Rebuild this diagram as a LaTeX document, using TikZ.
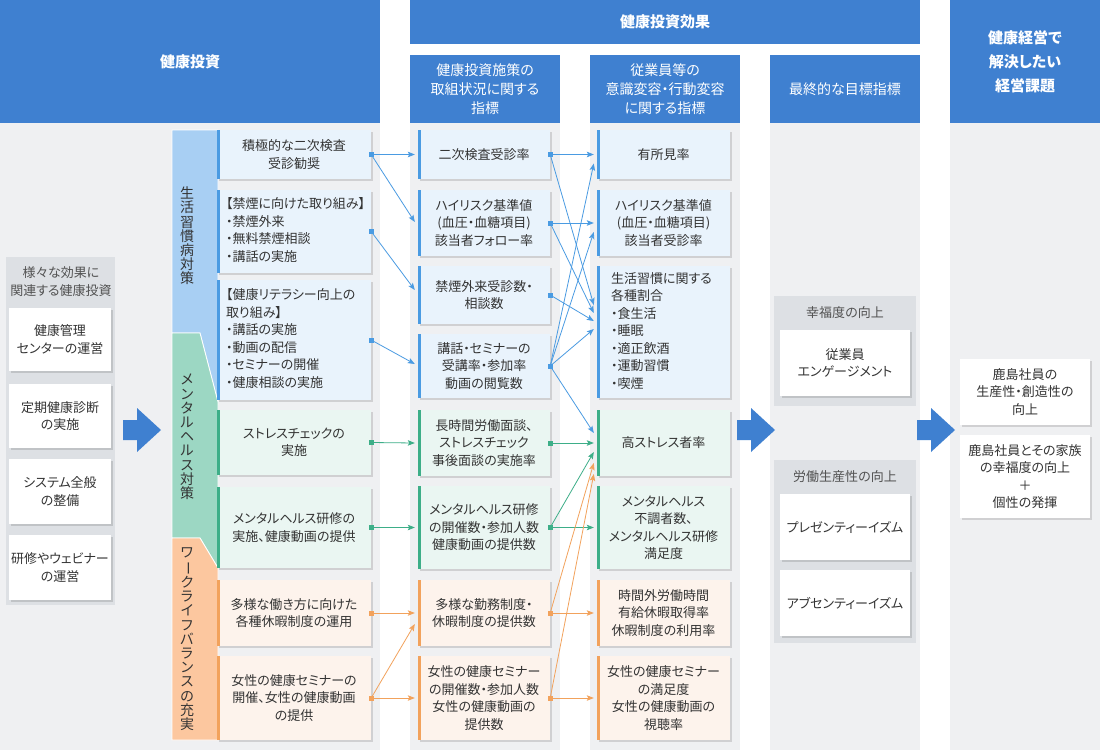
\documentclass[tikz,border=0pt]{standalone}
\usepackage{fontspec}
\setmainfont[RawFeature=+palt]{Noto Sans CJK JP}
\usetikzlibrary{arrows.meta,shadows,calc}
\definecolor{hdr}{HTML}{3F80D0}
\definecolor{colbg}{HTML}{EFF0F2}
\definecolor{grp}{HTML}{DDE0E4}
\definecolor{bfill}{HTML}{E9F3FC}
\definecolor{bbar}{HTML}{4A9BE2}
\definecolor{gfill}{HTML}{EAF6F2}
\definecolor{gbar}{HTML}{3DAE88}
\definecolor{ofill}{HTML}{FDF3EC}
\definecolor{obar}{HTML}{F2A25C}
\definecolor{bband}{HTML}{A8CFF3}
\definecolor{gband}{HTML}{9CD7C3}
\definecolor{oband}{HTML}{FCC79F}
\definecolor{txt}{HTML}{333333}
\newcommand\bxfont{\fontsize{13pt}{17.5pt}\selectfont}
\newcommand\lbox[2]{\makebox[#1][l]{\begin{tabular}{@{}l@{}}#2\end{tabular}}}
\newcommand\bxat[7]{\node[#2,minimum width={(#5-#3)*1pt},minimum height={(#6-#4)*1pt}] (#1) at ({(#3+#5)/2},{(#4+#6)/2}) {#7};}
\newcommand\vchoon{\makebox[1em]{\rotatebox[origin=c]{-90}{ー}}}
\tikzset{
  hdrbox/.style={fill=hdr,text=white,inner sep=0,align=center,font=\bfseries\fontsize{15pt}{24pt}\selectfont},
  subhdr/.style={fill=hdr,text=white,inner sep=0,align=center,font=\fontsize{14pt}{19pt}\selectfont},
  ibox/.style={inner sep=0,align=center,text=txt,font=\bxfont,
    drop shadow={shadow xshift=1.5pt,shadow yshift=-1.5pt,opacity=0.13,fill=black}},
  wbox/.style={ibox,fill=white},
  barbox/.style={ibox,fill=#1fill,path picture={\fill[#1bar] (path picture bounding box.north west) rectangle ([xshift=3pt]path picture bounding box.south west);}},
  grpbox/.style={fill=grp,inner sep=0},
  grptitle/.style={text=txt!85,font=\fontsize{13pt}{18pt}\selectfont,align=center,inner sep=0},
  vtext/.style={text=txt,font=\fontsize{14pt}{14.2pt}\selectfont,align=center,inner sep=0},
  ar/.style={line width=0.8pt,-{Stealth[length=7pt,width=5.5pt,inset=1.5pt]}},
  arb/.style={ar,draw=bbar},
  arg/.style={ar,draw=gbar},
  aro/.style={ar,draw=obar},
  sq/.style={rectangle,inner sep=0,minimum size=5pt,fill=#1},
}
\begin{document}
\begin{tikzpicture}[x=1pt,y=-1pt]
\useasboundingbox (0,0) rectangle (1100,750);
\fill[white] (0,0) rectangle (1100,750);
% column backgrounds
\foreach \a/\b in {0/380,410/560,590/740,770/920,950/1100}
  \fill[colbg] (\a,123) rectangle (\b,750);
% headers
\bxat{h1}{hdrbox}{0}{0}{380}{123}{健康投資}
\bxat{h2}{hdrbox}{410}{0}{920}{44}{健康投資効果}
\bxat{h3}{subhdr}{410}{55}{560}{123}{健康投資施策の\\取組状況に関する\\指標}
\bxat{h4}{subhdr}{590}{55}{740}{123}{従業員等の\\意識変容・行動変容\\に関する指標}
\bxat{h5}{subhdr}{770}{55}{920}{123}{最終的な目標指標}
\bxat{h6}{hdrbox}{950}{0}{1100}{123}{健康経営で\\解決したい\\経営課題}
% left group
\bxat{lg}{grpbox}{6}{257}{115}{605}{}
\node[grptitle] (lgt) at (61,282) {様々な効果に\\関連する健康投資};
\bxat{l1}{wbox}{9}{308}{111}{371}{健康管理\\センターの運営}
\bxat{l2}{wbox}{9}{384}{111}{448}{定期健康診断\\の実施}
\bxat{l3}{wbox}{9}{459}{111}{524}{システム全般\\の整備}
\bxat{l4}{wbox}{9}{535}{111}{600}{研修やウェビナー\\の運営}
% big arrows
\foreach \x in {123,737,917}
  \fill[hdr] (\x,420) -- (\x+14,420) -- (\x+14,408) -- (\x+38,430) -- (\x+14,452) -- (\x+14,440) -- (\x,440) -- cycle;
% category bands
\fill[bband,draw=white,line width=0.8pt] (172,130) -- (218,130) -- (218,402) -- (200,333) -- (172,333) -- cycle;
\fill[gband,draw=white,line width=0.8pt] (172,333) -- (200,333) -- (218,402) -- (218,568) -- (200,538) -- (172,538) -- cycle;
\fill[oband,draw=white,line width=0.8pt] (172,538) -- (200,538) -- (218,568) -- (218,740) -- (172,740) -- cycle;
\node[vtext] (v1) at (187,236) {生\\活\\習\\慣\\病\\対\\策};
\node[vtext] (v2) at (187,437) {メ\\ン\\タ\\ル\\ヘ\\ル\\ス\\対\\策};
\node[vtext] (v3) at (187,639) {ワ\\\vchoon\\ク\\ラ\\イ\\フ\\バ\\ラ\\ン\\ス\\の\\充\\実};
% column 1
\bxat{b1}{barbox=b}{217}{130}{371}{179}{積極的な二次検査\\受診勧奨}
\bxat{b2}{barbox=b}{217}{190}{371}{273}{\lbox{136pt}{【禁煙に向けた取り組み】\\・禁煙外来\\・無料禁煙相談\\・講話の実施}}
\bxat{b3}{barbox=b}{217}{280}{371}{400}{\lbox{136pt}{【健康リテラシー向上の\\取り組み】\\・講話の実施\\・動画の配信\\・セミナーの開催\\・健康相談の実施}}
\bxat{b4}{barbox=g}{217}{410}{371}{475}{ストレスチェックの\\実施}
\bxat{b5}{barbox=g}{217}{487}{371}{568}{メンタルヘルス研修の\\実施、健康動画の提供}
\bxat{b6}{barbox=o}{217}{580}{371}{646}{多様な働き方に向けた\\各種休暇制度の運用}
\bxat{b7}{barbox=o}{217}{656}{371}{740}{女性の健康セミナーの\\開催、女性の健康動画\\の提供}
% column 2
\bxat{c2a}{barbox=b}{418}{130}{550}{179}{二次検査受診率}
\bxat{c2b}{barbox=b}{418}{190}{550}{256}{ハイリスク基準値\\(血圧・血糖項目)\\該当者フォロー率}
\bxat{c2c}{barbox=b}{418}{266}{550}{324}{禁煙外来受診数・\\相談数}
\bxat{c2d}{barbox=b}{418}{334}{550}{398}{講話・セミナーの\\受講率・参加率\\動画の閲覧数}
\bxat{c2e}{barbox=g}{418}{410}{550}{476}{長時間労働面談、\\ストレスチェック\\事後面談の実施率}
\bxat{c2f}{barbox=g}{418}{486}{550}{569}{メンタルヘルス研修\\の開催数・参加人数\\健康動画の提供数}
\bxat{c2g}{barbox=o}{418}{580}{550}{646}{多様な勤務制度・\\休暇制度の提供数}
\bxat{c2h}{barbox=o}{418}{656}{550}{740}{女性の健康セミナー\\の開催数・参加人数\\女性の健康動画の\\提供数}
% column 3
\bxat{c3a}{barbox=b}{597}{130}{730}{179}{有所見率}
\bxat{c3b}{barbox=b}{597}{190}{730}{256}{ハイリスク基準値\\(血圧・血糖項目)\\該当者受診率}
\bxat{c3c}{barbox=b}{597}{266}{730}{398}{\lbox{105pt}{生活習慣に関する\\各種割合\\・食生活\\・睡眠\\・適正飲酒\\・運動習慣\\・喫煙}}
\bxat{c3d}{barbox=g}{597}{410}{730}{476}{高ストレス者率}
\bxat{c3e}{barbox=g}{597}{486}{730}{569}{メンタルヘルス\\不調者数、\\メンタルヘルス研修\\満足度}
\bxat{c3f}{barbox=o}{597}{580}{730}{646}{時間外労働時間\\有給休暇取得率\\休暇制度の利用率}
\bxat{c3g}{barbox=o}{597}{656}{730}{740}{女性の健康セミナー\\の満足度\\女性の健康動画の\\視聴率}
% column 4
\bxat{g1}{grpbox}{774}{296}{916}{406}{}
\node[grptitle] (g1t) at (845,313) {幸福度の向上};
\bxat{k1}{wbox}{780}{330}{910}{396}{従業員\\エンゲージメント}
\bxat{g2}{grpbox}{774}{460}{916}{643}{}
\node[grptitle] (g2t) at (845,477) {労働生産性の向上};
\bxat{k2}{wbox}{780}{494}{910}{560}{プレゼンティーイズム}
\bxat{k3}{wbox}{780}{570}{910}{636}{アブセンティーイズム}
% column 5
\bxat{m1}{wbox}{960}{359}{1090}{425}{鹿島社員の\\生産性・創造性の\\向上}
\bxat{m2}{wbox}{960}{435}{1090}{518}{鹿島社員とその家族\\の幸福度の向上\\＋\\個性の発揮}
% connectors col1 -> col2
\draw[arb] (b1.east) -- ($(c2a.west)+(-3,0)$);
\draw[arb] (b1.east) -- ($(c2b.west)+(-3,-1)$);
\draw[arb] (b2.east) -- ($(c2c.west)+(-3,-5)$);
\draw[arb] (b3.east) -- ($(c2d.west)+(-3,-2)$);
\draw[arg] (b4.east) -- ($(c2e.west)+(-3,0)$);
\draw[arg] (b5.east) -- ($(c2f.west)+(-3,0)$);
\draw[aro] (b6.east) -- ($(c2g.west)+(-3,0)$);
\draw[aro] (b7.east) -- ($(c2h.west)+(-3,0)$);
\draw[aro] (b7.east) -- ($(c2g.west)+(-3,11)$);
% connectors col2 -> col3
\draw[arb] (c2a.east) -- ($(c3a.west)+(-3,0)$);
\draw[arb] (c2a.east) -- ($(c3c.west)+(-3,-27)$);
\draw[arb] (c2b.east) -- ($(c3b.west)+(-3,0)$);
\draw[arb] (c2b.east) -- ($(c3c.west)+(-3,-19)$);
\draw[arb] (c2c.east) -- ($(c3c.west)+(-3,-11)$);
\draw[arb] (c2d.east) -- ($(c3c.west)+(-3,-3)$);
\draw[arb] (c2d.east) -- ($(c3a.west)+(-3,9)$);
\draw[arb] (c2d.east) -- ($(c3b.west)+(-3,9)$);
\draw[arb] (c2d.east) -- ($(c3d.west)+(-3,-10)$);
\draw[arg] (c2e.east) -- ($(c3d.west)+(-3,0)$);
\draw[arg] (c2f.east) -- ($(c3d.west)+(-3,9)$);
\draw[arg] (c2f.east) -- ($(c3e.west)+(-3,0)$);
\draw[aro] (c2g.east) -- ($(c3d.west)+(-3,20)$);
\draw[aro] (c2g.east) -- ($(c3f.west)+(-3,0)$);
\draw[aro] (c2h.east) -- ($(c3d.west)+(-3,31)$);
\draw[aro] (c2h.east) -- ($(c3g.west)+(-3,0)$);
% connector dots
\foreach \n/\c in {b1/bbar,b2/bbar,b3/bbar,b4/gbar,b5/gbar,b6/obar,b7/obar,c2a/bbar,c2b/bbar,c2c/bbar,c2d/bbar,c2e/gbar,c2f/gbar,c2g/obar,c2h/obar}
  \node[sq=\c] (d\n) at (\n.east) {};
\end{tikzpicture}
\end{document}
